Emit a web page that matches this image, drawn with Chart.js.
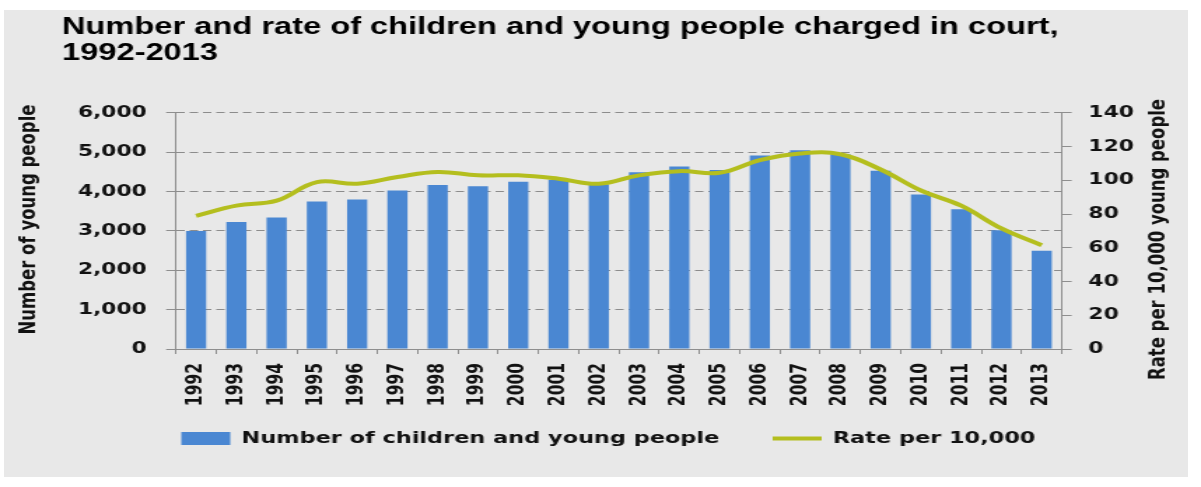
<!DOCTYPE html>
<html><head><meta charset="utf-8">
<script src="https://cdn.jsdelivr.net/npm/chart.js@4.4.1/dist/chart.umd.min.js"></script>
<style>
html,body{margin:0;padding:0;background:#fff;width:1201px;height:487px;overflow:hidden;}
#bg{position:absolute;left:4px;top:10px;width:1184px;height:467px;background:#e8e8e8;}
#wrap{position:absolute;left:0;top:0;width:858px;height:487px;transform:scaleX(1.39977);transform-origin:0 0;}
canvas{display:block;}
</style></head><body>
<div id="bg"></div>
<div id="wrap"><canvas id="c" width="858" height="487"></canvas></div>
<script>
const TITLE_LINES = ['Number and rate of children and young people charged in court,', '1992-2013'];
const YEARS = ['1992','1993','1994','1995','1996','1997','1998','1999','2000','2001','2002',
               '2003','2004','2005','2006','2007','2008','2009','2010','2011','2012','2013'];
const NUMBER_CHARGED = [3000,3230,3340,3750,3800,4030,4170,4140,4250,4300,4190,
                        4490,4640,4550,4920,5050,4950,4530,3930,3550,3020,2500];
const RATE_PER_10000 = [79,85,88,99,98,102,105,103,103,101,98,
                        103,105.5,104.5,112,116,115.5,106.5,94,85,71.5,61.5];
const LEFT_TICK_LABELS = ['0','1,000','2,000','3,000','4,000','5,000','6,000'];
const RIGHT_TICK_LABELS = ['0','20','40','60','80','100','120','140'];
const SERIES_NAMES = ['Number of children and young people', 'Rate per 10,000'];
const LEFT_AXIS_TITLE = 'Number of young people';
const RIGHT_AXIS_TITLE = 'Rate per 10,000 young people';

const BAR_COLOR = '#4a87d2';
const LINE_COLOR = '#b4be1e';
const AXIS_COLOR = '#8e8e8e';
const GRID_COLOR = '#8c8c8c';
const TEXT_COLOR = '#111111';
const DV = '"DejaVu Sans", Verdana, sans-serif';

const axisTitles = {
  id: 'axisTitles',
  afterDraw(chart) {
    const ctx = chart.ctx;
    ctx.save();
    ctx.font = 'bold 16.5px ' + DV;
    ctx.fillStyle = TEXT_COLOR;
    ctx.textAlign = 'center';
    ctx.textBaseline = 'middle';
    [[LEFT_AXIS_TITLE, 20.5, 219.5], [RIGHT_AXIS_TITLE, 827.5, 239.5]].forEach(([t, x, y]) => {
      ctx.save();
      ctx.translate(x, y);
      ctx.rotate(-Math.PI / 2);
      ctx.fillText(t, 0, 0);
      ctx.restore();
    });
    ctx.restore();
  }
};

new Chart(document.getElementById('c'), {
  data: {
    labels: YEARS,
    datasets: [
      {
        type: 'bar',
        label: SERIES_NAMES[0],
        data: NUMBER_CHARGED,
        backgroundColor: BAR_COLOR,
        borderWidth: 0,
        categoryPercentage: 1,
        barPercentage: 0.5,
        yAxisID: 'y',
        order: 1
      },
      {
        type: 'line',
        label: SERIES_NAMES[1],
        data: RATE_PER_10000,
        borderColor: LINE_COLOR,
        backgroundColor: LINE_COLOR,
        borderWidth: 4,
        tension: 0.4,
        pointRadius: 0,
        pointHoverRadius: 0,
        fill: false,
        yAxisID: 'y1',
        order: 0
      }
    ]
  },
  options: {
    responsive: false,
    animation: false,
    devicePixelRatio: 1,
    layout: { padding: { left: 44.3, right: 33.1, top: 0, bottom: 30.5 } },
    plugins: {
      tooltip: { enabled: false },
      title: {
        display: true,
        text: TITLE_LINES,
        align: 'start',
        color: '#000',
        font: { family: '"Liberation Sans", Arial, sans-serif', size: 23.3, weight: 'bold', lineHeight: 1.1 },
        padding: { top: 15.2, bottom: 46.5 }
      },
      legend: {
        position: 'bottom',
        labels: {
          usePointStyle: true,
          pointStyleWidth: 35,
          boxHeight: 13,
          padding: 21.5,
          color: TEXT_COLOR,
          font: { family: DV, size: 16, weight: 'bold' },
          generateLabels(chart) {
            const items = Chart.defaults.plugins.legend.labels.generateLabels(chart);
            items.forEach(it => {
              if (it.datasetIndex === 0) {
                it.pointStyle = 'rect'; it.lineWidth = 0; it.fillStyle = BAR_COLOR; it.strokeStyle = BAR_COLOR;
                it.text = it.text + '   ';
              } else {
                it.pointStyle = 'line'; it.lineWidth = 4; it.strokeStyle = LINE_COLOR; it.fillStyle = LINE_COLOR;
              }
            });
            return items.sort((a, b) => a.datasetIndex - b.datasetIndex);
          }
        }
      }
    },
    scales: {
      x: {
        offset: true,
        grid: { offset: true, drawOnChartArea: false, tickLength: 5, tickColor: AXIS_COLOR, color: AXIS_COLOR },
        border: { color: AXIS_COLOR, width: 1 },
        ticks: {
          autoSkip: false, minRotation: 90, maxRotation: 90, padding: 9,
          color: TEXT_COLOR, font: { family: DV, size: 15.5, weight: 'bold' }
        },
        afterFit(s) { s.height = 60; }
      },
      y: {
        position: 'left',
        min: 0, max: 6000,
        grid: { color: GRID_COLOR, lineWidth: 1, tickLength: 7, tickColor: AXIS_COLOR },
        border: { color: AXIS_COLOR, width: 1, dash: [6, 3.5] },
        ticks: {
          stepSize: 1000, padding: 14, color: TEXT_COLOR,
          font: { family: DV, size: 15.5, weight: 'bold' },
          callback: (v) => LEFT_TICK_LABELS[Math.round(v / 1000)]
        },
        afterFit(s) { s.width = 81.4; }
      },
      y1: {
        position: 'right',
        min: 0, max: 140,
        grid: { drawOnChartArea: false, tickLength: 7, tickColor: AXIS_COLOR },
        border: { color: AXIS_COLOR, width: 1 },
        ticks: {
          stepSize: 20, padding: 12, color: TEXT_COLOR,
          font: { family: DV, size: 15.5, weight: 'bold' },
          callback: (v) => RIGHT_TICK_LABELS[Math.round(v / 20)]
        },
        afterFit(s) { s.width = 66.3; }
      }
    }
  },
  plugins: [axisTitles]
});
</script>
</body></html>
